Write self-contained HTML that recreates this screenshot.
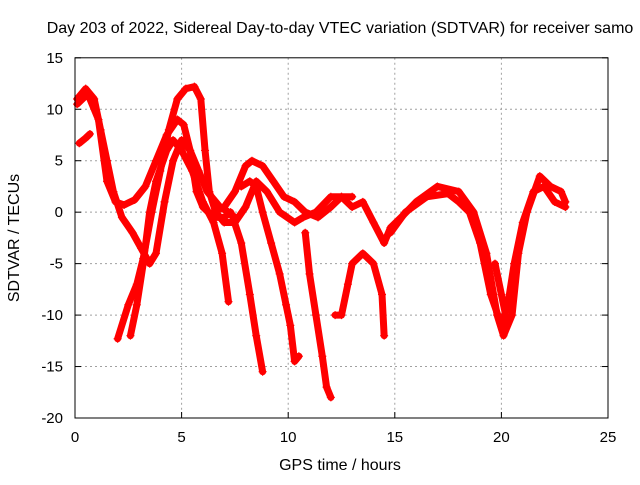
<!DOCTYPE html>
<html><head><meta charset="utf-8"><style>
body{margin:0;background:#fff;}
svg text{font-family:"Liberation Sans",sans-serif;font-size:15px;fill:#000;}
svg text.big{font-size:16px;}
</style></head><body>
<svg id="chart" width="640" height="480">
<text class="big" x="340" y="33" text-anchor="middle">Day 203 of 2022, Sidereal Day-to-day VTEC variation (SDTVAR) for receiver samo</text>
<text class="big" x="340" y="470" text-anchor="middle">GPS time / hours</text>
<text class="big" transform="translate(19,238) rotate(-90)" text-anchor="middle">SDTVAR / TECUs</text>
<g id="grid"></g><g id="marks"></g><g id="axes"></g>
</svg>
<script>
const xTicks=[0,5,10,15,20,25];
const yTicks=[15,10,5,0,-5,-10,-15,-20];
const trackA=[[0.1,11],[0.5,12],[0.9,11],[1.2,8],[1.5,5],[1.8,2],[2.2,-0.5],[2.7,-2],[3.1,-3.5],[3.5,-5],[3.8,-4],[4.2,1],[4.6,5],[5,7],[5.4,6],[5.8,4],[6.2,2],[6.8,0.5],[7.2,0],[7.5,-0.5]];
const trackB=[[0.1,10.5],[0.6,11.5],[1.1,9],[1.5,3],[1.9,1],[2.3,0.7],[2.8,1.2],[3.3,2.5],[3.8,5],[4.3,7.5],[4.8,9],[5.1,8.5],[5.4,6],[5.7,2],[6,0.5],[6.5,-0.5],[7,-0.5],[7.3,0]];
const trackC=[[2,-12.3],[2.5,-9],[2.9,-7],[3.2,-4.5],[3.6,0],[4,4],[4.4,8],[4.8,11],[5.2,12],[5.6,12.2],[5.9,11],[6.1,6],[6.3,2],[6.6,0],[7,-1],[7.5,-1],[8,0.5],[8.5,3],[9,2],[9.6,0],[10.3,-1],[10.7,-0.5],[11.3,0],[12,1.5],[12.5,1.5],[13,0.5],[13.5,1],[14,-1],[14.5,-3],[14.8,-1.5],[15.3,-0.5],[16,1],[17,2.5],[18,2],[18.7,0],[19.3,-4],[19.8,-10],[20.1,-12],[20.5,-10],[20.8,-4],[21.2,0],[21.8,3.5],[22.3,2.5],[22.8,2],[23,1]];
const trackD=[[0.2,6.7],[0.5,7.2],[0.7,7.6]];
const trackE=[[2.6,-12],[2.9,-9],[3.2,-5],[3.5,0],[3.8,3],[4.3,6],[4.6,7],[5,6],[5.5,4],[6,1],[6.5,-1],[6.9,-4],[7.2,-8.7]];
const trackF=[[6.5,0],[7,0.5],[7.5,2],[8,4.5],[8.3,5],[8.8,4.5],[9.3,3],[9.8,1.5],[10.3,1],[10.8,0],[11.4,-0.5],[12,0.5],[12.5,1.5],[13,1.5]];
const trackG=[[7.8,2.5],[8.2,3],[8.5,2.5],[8.8,0],[9.2,-3],[9.6,-6],[9.9,-9],[10.1,-11],[10.3,-14.5],[10.5,-14]];
const trackH=[[7.4,-0.5],[7.8,-3],[8.2,-8],[8.5,-12],[8.8,-15.5]];
const trackI=[[10.8,-2],[11,-6],[11.3,-10],[11.6,-14],[11.8,-17],[12,-18]];
const trackJ=[[12.2,-10],[12.5,-10],[12.8,-7],[13,-5],[13.5,-4],[14,-5],[14.4,-8],[14.5,-12]];
const trackK=[[14.8,-2],[15.5,0],[16.5,1.5],[17.5,1.8],[18,1],[18.5,0],[19,-3],[19.5,-8],[20,-11],[20.3,-9],[20.6,-5],[21,-1],[21.5,2],[22,2.5],[22.5,1],[23,0.5]];
const trackL=[[19.7,-5],[20,-8],[20.2,-10]];
const tracks=[trackA,trackB,trackC,trackD,trackE,trackF,trackG,trackH,trackI,trackJ,trackK,trackL];
const L=75,R=608,T=57.8,B=418;
const xs=v=>L+(v-0)/25*(R-L);
const ys=v=>T+(15-v)/35*(B-T);
const NS='http://www.w3.org/2000/svg';
function mk(tag,attrs,parent){const e=document.createElementNS(NS,tag);for(const k in attrs)e.setAttribute(k,attrs[k]);parent.appendChild(e);return e;}
const grid=document.getElementById('grid'),axes=document.getElementById('axes'),marks=document.getElementById('marks');
xTicks.forEach(t=>{
  const x=xs(t);
  if(t>0&&t<25){const g=mk('line',{x1:x,x2:x,y1:T,y2:B,stroke:'#a0a0a0','stroke-dasharray':'2,3'},grid);
  
  }
  mk('line',{x1:x,x2:x,y1:B,y2:B-6,stroke:'#000'},axes);
  const lb=mk('text',{x:x,y:B+24,'text-anchor':'middle'},axes);lb.textContent=t;
  
  
});
yTicks.forEach(t=>{
  const y=ys(t);
  if(t<15&&t>-20){const g=mk('line',{x1:L,x2:R,y1:y,y2:y,stroke:'#a0a0a0','stroke-dasharray':'2,3'},grid);
  
  }
  mk('line',{x1:L,x2:L+6,y1:y,y2:y,stroke:'#000'},axes);
  mk('line',{x1:R,x2:R-6,y1:y,y2:y,stroke:'#000'},axes);
  const lb=mk('text',{x:L-12,y:y+5,'text-anchor':'end'},axes);lb.textContent=t;
  
  
});
const frame=mk('rect',{x:L,y:T,width:R-L,height:B-T,fill:'none',stroke:'#000'},axes);


tracks.forEach(tr=>{
  const p=mk('polyline',{points:tr.map(d=>xs(d[0])+','+ys(d[1])).join(' '),fill:'none',stroke:'#f00','stroke-width':7,'stroke-linejoin':'round','stroke-linecap':'round'},marks);
  
  
  tr.forEach(d=>{
    const x=xs(d[0]),y=ys(d[1]);
    const m=mk('path',{d:`M${x-4},${y}H${x+4}M${x},${y-4}V${y+4}`,stroke:'#f00','stroke-width':1.2},marks);
    
    
  });
});
</script>
</body></html>
